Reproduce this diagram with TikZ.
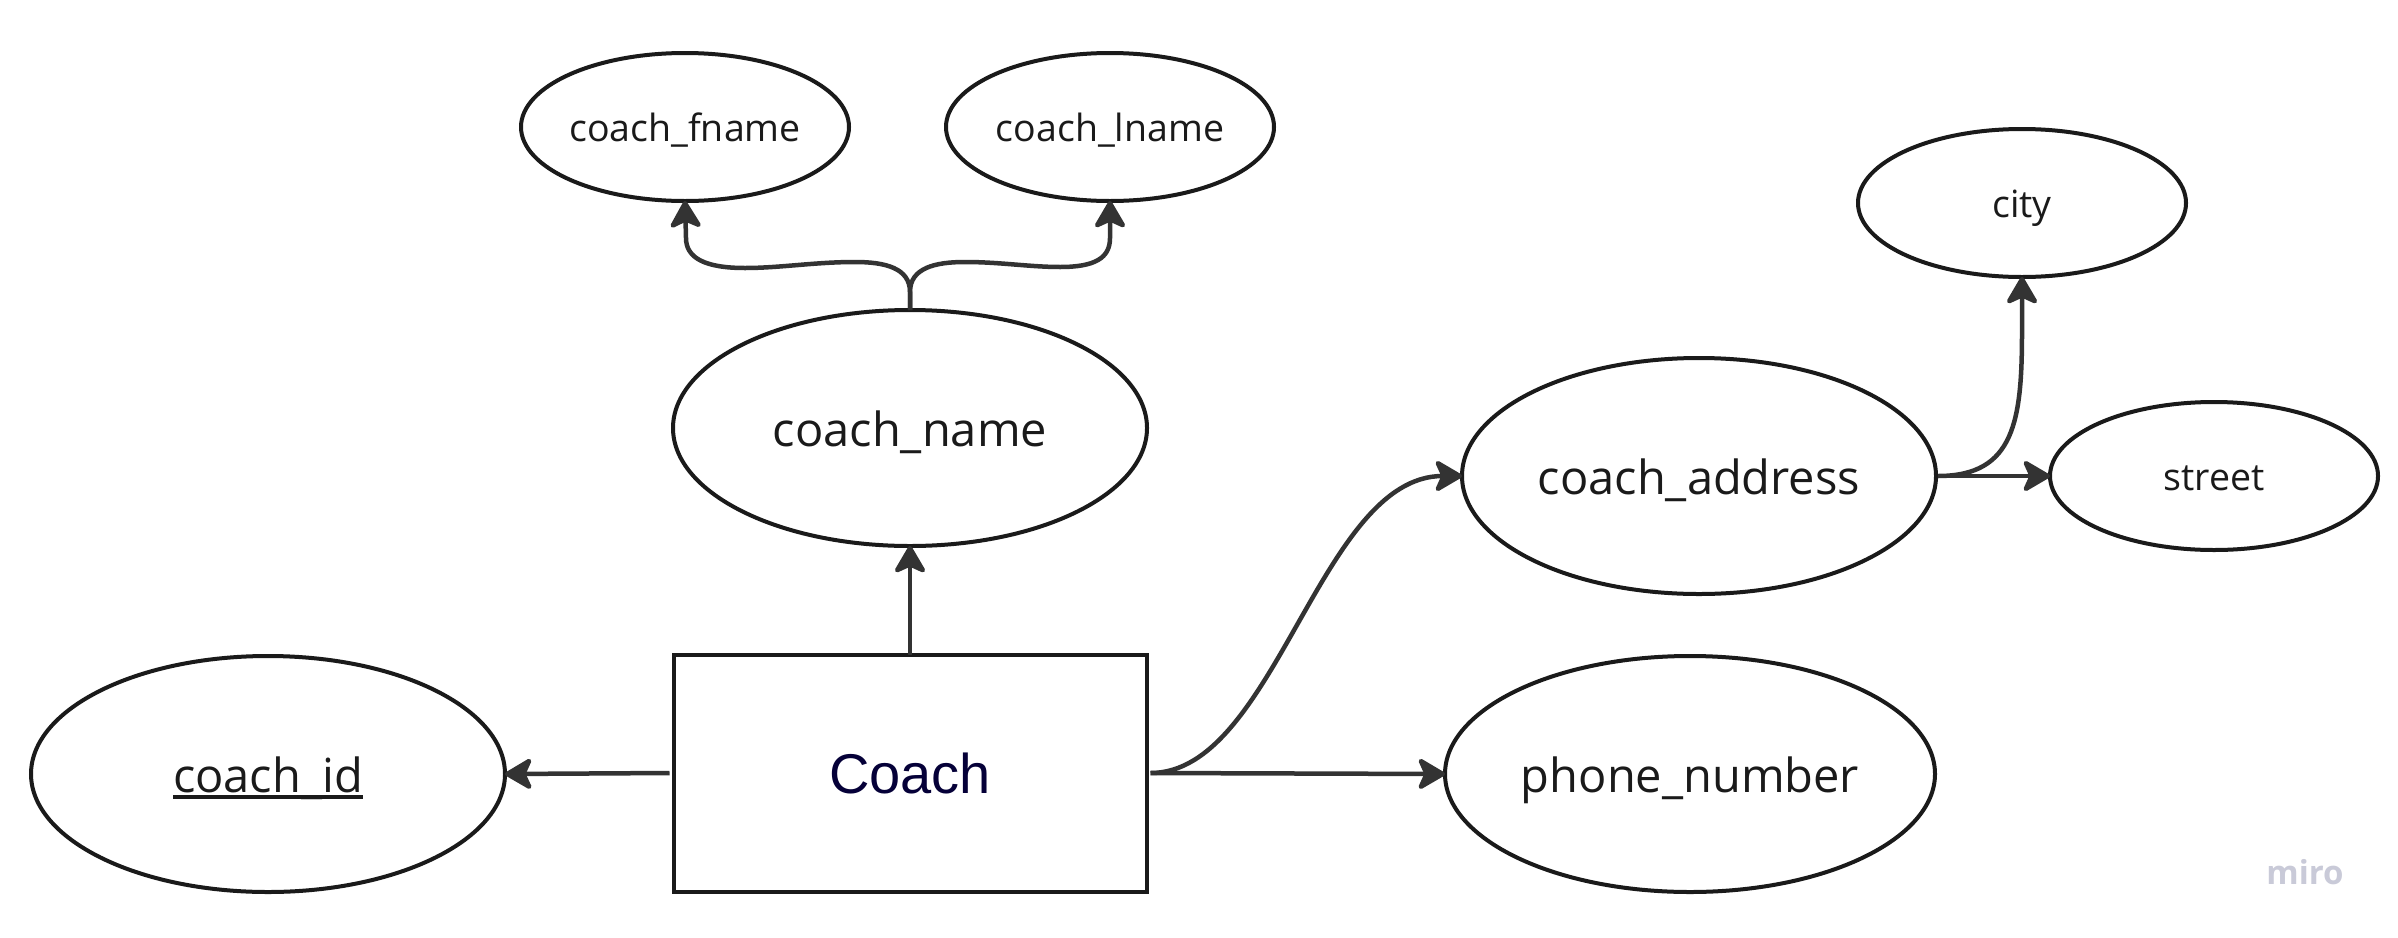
\documentclass[tikz,border=0pt]{standalone}
\usepackage{fontspec}
\setmainfont{Open Sans}
\newfontfamily\arialfont{Liberation Sans}
\usetikzlibrary{shapes.geometric,arrows.meta}
\definecolor{edgecol}{HTML}{1A1A1A}
\definecolor{linecol}{HTML}{333333}
\definecolor{txtcol}{HTML}{1A1A1A}
\definecolor{navy}{HTML}{050038}
\definecolor{mirocol}{HTML}{C9CAD8}
\newcommand\keyline[1]{{\setbox0\hbox{#1}\rlap{\rule[-7pt]{\wd0}{4pt}}\box0}}
\begin{document}
\begin{tikzpicture}[x=1pt,y=-1pt,
  attrbig/.style={ellipse,draw=edgecol,line width=4pt,minimum width=474pt,minimum height=236pt,inner sep=0pt,outer sep=0pt,text=txtcol,text height=36pt,text depth=0pt,font=\fontsize{47}{56}\selectfont},
  attrsmall/.style={ellipse,draw=edgecol,line width=4pt,minimum width=328pt,minimum height=148pt,inner sep=0pt,outer sep=0pt,text=txtcol,text height=28.5pt,text depth=0pt,font=\fontsize{37.5}{45}\selectfont},
  entity/.style={rectangle,draw=edgecol,line width=4pt,minimum width=473pt,minimum height=237pt,inner sep=0pt,outer sep=0pt,text=navy,font=\arialfont\fontsize{56}{66}\selectfont},
  conn/.style={draw=linecol,line width=4.5pt,-{Stealth[length=31pt,width=36pt,inset=8pt,round]}}]
\path[use as bounding box,fill=white] (0,0) rectangle (2398,937);

\node[attrsmall] (fname) at (685,127) {coach\_fname};
\node[attrsmall] (lname) at (1110,127) {coach\_lname};
\node[attrsmall] (city) at (2022,203) {city};
\node[attrbig] (cname) at (910,428) {coach\_name};
\node[attrbig] (caddr) at (1699,476) {coach\_address};
\node[attrsmall] (street) at (2214,476) {street};
\node[attrbig] (cid) at (268,774) {\keyline{coach\_id}};
\node[entity] (coach) at (910,773) {Coach};
\node[attrbig,minimum width=490pt] (phone) at (1690,774) {phone\_number};
\node[text=mirocol,font=\fontsize{33}{40}\selectfont\bfseries] (miro) at (2305,872) {miro};

\draw[conn] (coach.north) -- (cname.south);
\draw[conn] ([xshift=-4pt]coach.west) -- (cid.east);
\draw[conn] ([xshift=4pt]coach.east) -- (phone.west);
\draw[conn] ([xshift=4pt]coach.east) .. controls (1275,773) and (1320,476) .. (caddr.west);
\draw[conn] (cname.north) -- (910,292) .. controls (910,268) and (885,262) .. (855,262)
  .. controls (815,262) and (780,268) .. (745,268) .. controls (705,268) and (686,258) .. (686,238) -- (fname.south);
\draw[conn] (cname.north) -- (910,292) .. controls (910,268) and (935,262) .. (965,262)
  .. controls (1000,262) and (1030,267) .. (1060,267) .. controls (1095,267) and (1110,258) .. (1110,238) -- (lname.south);
\draw[conn] ([xshift=2pt]caddr.east) -- (street.west);
\draw[conn] ([xshift=2pt]caddr.east) .. controls (2015,476) and (2022,420) .. (2022,330) -- (city.south);
\end{tikzpicture}
\end{document}
